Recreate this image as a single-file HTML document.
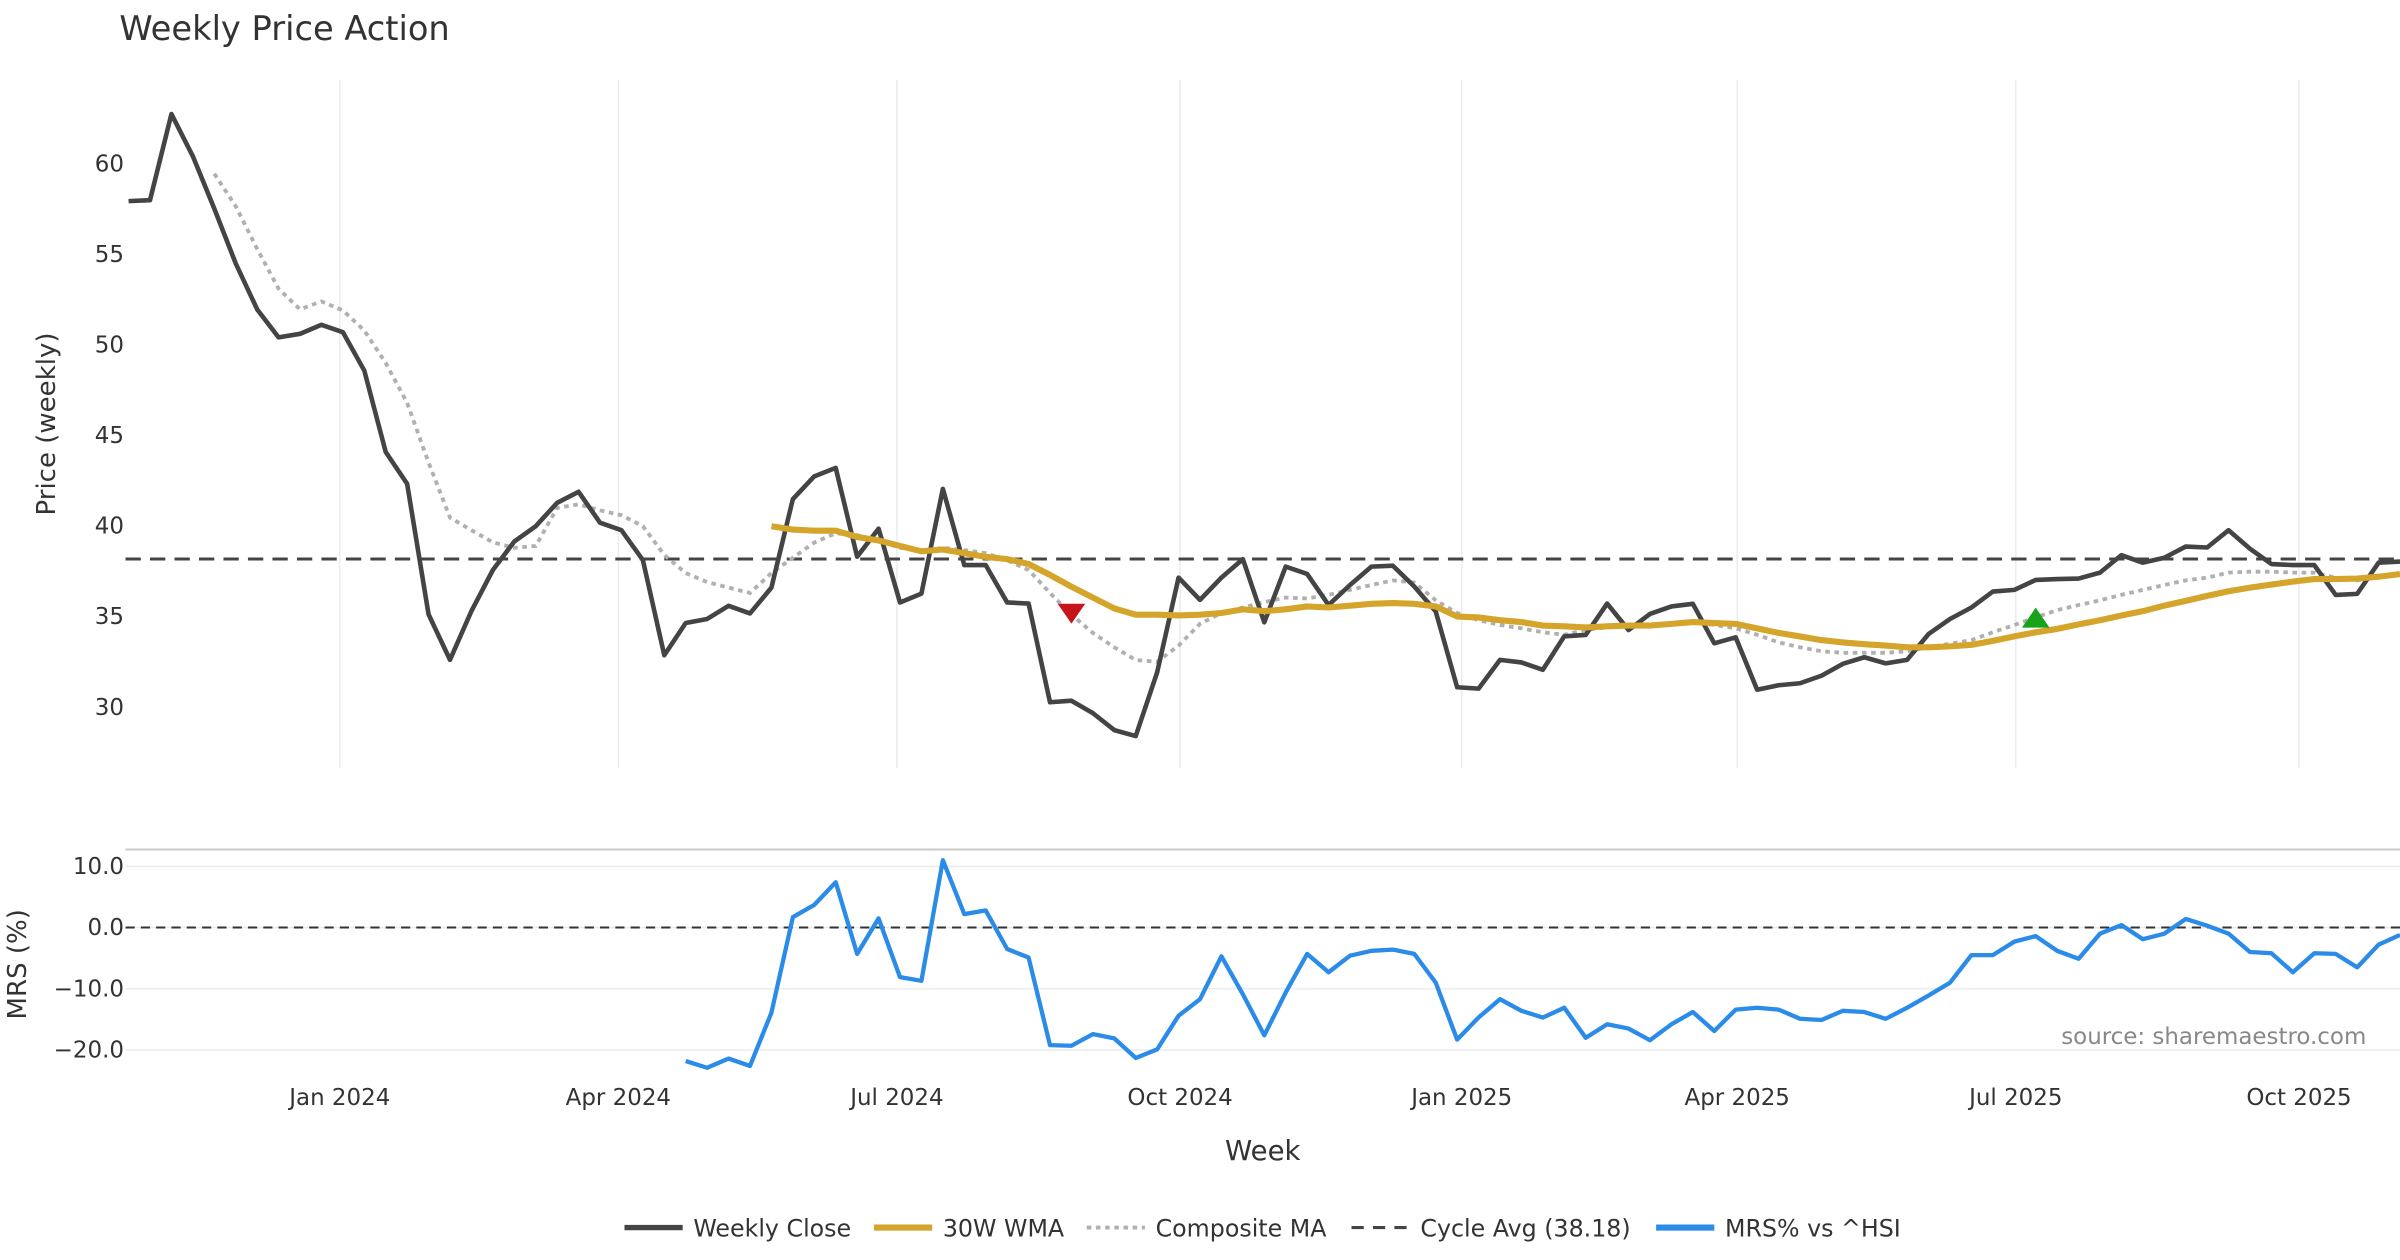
<!DOCTYPE html>
<html><head><meta charset="utf-8"><style>
html,body{margin:0;padding:0;background:#fff;}
svg{display:block;font-family:"DejaVu Sans","Liberation Sans",sans-serif;}
</style></head><body>
<svg id="chart" width="2400" height="1260" viewBox="0 0 1568 823.2" xmlns="http://www.w3.org/2000/svg">
<rect x="0" y="0" width="1568" height="823.2" fill="#fff"/>
<text x="78" y="26" font-size="22" fill="#333">Weekly Price Action</text>
<text transform="translate(36,277) rotate(-90)" text-anchor="middle" font-size="17" fill="#333">Price (weekly)</text>
<text transform="translate(17,630) rotate(-90)" text-anchor="middle" font-size="17" fill="#333">MRS (%)</text>
<text x="825" y="758" text-anchor="middle" font-size="18" fill="#333">Week</text>
<text x="1546" y="682" text-anchor="end" font-size="15" fill="#888">source: sharemaestro.com</text>
<g id="grid"></g>
<g id="series"></g>
<g id="legend"></g>
</svg>
<script>
const closeVals=[57.94,57.99,62.75,60.41,57.52,54.5,51.96,50.42,50.61,51.11,50.70,48.58,44.09,42.33,35.12,32.61,35.31,37.57,39.14,39.99,41.28,41.89,40.18,39.77,38.12,32.86,34.65,34.87,35.59,35.17,36.60,41.48,42.74,43.21,38.31,39.85,35.78,36.27,42.05,37.84,37.84,35.78,35.72,30.27,30.35,29.67,28.73,28.40,31.92,37.15,35.92,
37.15,38.17,34.68,37.76,37.35,35.64,36.74,37.76,37.81,36.66,35.28,31.10,31.02,32.61,32.47,32.06,33.91,33.99,35.72,34.26,35.15,35.56,35.70,33.52,33.85,30.96,31.21,31.32,31.73,32.39,32.75,32.42,32.61,34.04,34.87,35.50,36.38,36.47,37.02,37.07,37.10,37.43,38.39,37.98,38.25,38.86,38.81,39.77,38.75,37.90,37.84,37.84,36.19,36.25,37.98,38.04];
const wmaStart=30;
const wmaVals=[39.99,39.8,39.74,39.74,39.4,39.2,38.9,38.6,38.7,38.5,38.3,38.17,37.9,37.3,36.65,36.05,35.45,35.1,35.1,35.06,
35.1,35.2,35.4,35.3,35.4,35.56,35.5,35.6,35.7,35.75,35.7,35.56,35.0,34.95,34.8,34.7,34.5,34.46,34.4,34.46,34.5,34.5,34.6,34.7,34.64,34.6,34.35,34.1,33.9,33.7,33.57,33.47,33.4,33.3,33.3,33.35,33.44,33.66,33.9,34.13,34.32,34.57,34.8,35.06,35.3,35.6,35.86,36.14,36.4,36.6,36.77,36.93,37.07,37.07,37.1,37.2,37.35];
const compStart=4;
const compVals=[59.45,57.66,55.3,53.1,51.96,52.4,51.9,50.8,49.0,46.8,43.5,40.46,39.77,39.1,38.8,38.9,41.0,41.2,40.87,40.6,40.0,38.4,37.4,36.9,36.6,36.3,37.4,38.25,39.08,39.6,39.5,39.2,38.8,38.6,38.8,38.67,38.5,38.1,37.57,36.3,35.1,34.1,33.3,32.6,32.5,33.4,34.6,
35.2,35.5,35.8,36.05,36.0,36.2,36.47,36.74,37.0,36.88,35.9,35.2,34.8,34.54,34.35,34.13,34.0,34.26,34.4,34.46,34.54,34.6,34.68,34.54,34.35,34.0,33.57,33.3,33.08,33.0,33.0,33.0,33.08,33.3,33.5,33.7,34.13,34.54,34.95,35.36,35.64,35.9,36.2,36.47,36.74,37.0,37.15,37.43,37.48,37.48,37.43,37.43,37.15,37.0,37.15,37.3];
const mrsStart=26;
const mrsVals=[-21.8,-22.9,-21.4,-22.6,-13.9,1.7,3.7,7.4,-4.3,1.5,-8.1,-8.7,11.0,2.2,2.8,-3.5,-4.9,-19.2,-19.3,-17.4,-18.1,-21.3,-19.9,-14.4,-11.7,-4.7,-10.9,-17.6,-10.6,-4.3,-7.3,-4.6,-3.8,-3.6,-4.3,-9.0,-18.3,-14.7,-11.7,-13.6,-14.7,-13.1,-18.0,-15.8,-16.5,-18.4,-15.8,-13.8,-16.9,-13.4,-13.1,-13.4,-14.9,-15.1,-13.6,-13.8,-14.9,-13.1,-11.1,-9.0,-4.5,-4.5,-2.3,-1.4,-3.8,-5.1,-1.0,0.4,-1.9,-1.0,1.4,0.3,-1.0,-4.0,-4.2,-7.3,-4.2,-4.3,-6.5,-2.8,-1.2];
const cycleAvg=38.18;
const sellSignal=[44,35.2];
const buySignal=[89,34.9];
const priceTicks=[30,35,40,45,50,55,60];
const mrsTicks=[10,0,-10,-20];
const monthLabels=["Jan 2024","Apr 2024","Jul 2024","Oct 2024","Jan 2025","Apr 2025","Jul 2025","Oct 2025"];
const monthWeekPos=[9.857,22.857,35.857,49.071,62.214,75.071,88.071,101.286];

const NS="http://www.w3.org/2000/svg";
function xs(i){return 84+i*14.0;}
function yp(v){return 107+(60-v)*11.833;}
function ym(v){return 606-v*4.0;}
function mk(tag,attrs,parent){const e=document.createElementNS(NS,tag);for(const k in attrs)e.setAttribute(k,attrs[k]);parent.appendChild(e);return e;}
const grid=document.getElementById('grid'),ser=document.getElementById('series'),leg=document.getElementById('legend');

monthWeekPos.forEach((w,k)=>{
  const x=xs(w);
  const g=mk('line',{x1:x,x2:x,y1:52,y2:502,stroke:'#e9edf1','stroke-width':1},grid);
  
  
  const t=mk('text',{x:x,y:722,'text-anchor':'middle','font-size':15,fill:'#333'},grid);
  t.textContent=monthLabels[k];
  
  
});
priceTicks.forEach(v=>{
  const t=mk('text',{x:81,y:yp(v)+5,'text-anchor':'end','font-size':15,fill:'#333'},grid);
  t.textContent=v;
  
  
});
const border=mk('line',{x1:82,x2:1568,y1:555,y2:555,stroke:'#c8c8c8','stroke-width':1.3},grid);


mrsTicks.forEach(v=>{
  const l=mk('line',{x1:82,x2:1568,y1:ym(v),y2:ym(v),stroke:'#ececf0','stroke-width':1},grid);
  
  
  const t=mk('text',{x:81,y:ym(v)+5,'text-anchor':'end','font-size':15,fill:'#333'},grid);
  t.textContent=(v<0?'\u2212':'')+Math.abs(v).toFixed(1);
  
  
});
const z=mk('line',{x1:82,x2:1568,y1:ym(0),y2:ym(0),stroke:'#333','stroke-width':1.3,'stroke-dasharray':'6,4'},ser);


const ca=mk('line',{x1:82,x2:1568,y1:yp(cycleAvg),y2:yp(cycleAvg),stroke:'#444','stroke-width':2,'stroke-dasharray':'10,6'},ser);



function pts(vals,start,yf){return vals.map((v,i)=>xs(start+i).toFixed(1)+','+yf(v).toFixed(1)).join(' ');}
const comp=mk('polyline',{points:pts(compVals,compStart,yp),fill:'none',stroke:'#b0b0b0','stroke-width':2.5,'stroke-dasharray':'3,3'},ser);


const cl=mk('polyline',{points:pts(closeVals,0,yp),fill:'none',stroke:'#444','stroke-width':3,'stroke-linejoin':'round'},ser);


const wm=mk('polyline',{points:pts(wmaVals,wmaStart,yp),fill:'none',stroke:'#d4a52a','stroke-width':4,'stroke-linejoin':'round'},ser);


const mr=mk('polyline',{points:pts(mrsVals,mrsStart,ym),fill:'none',stroke:'#2a8be8','stroke-width':2.8,'stroke-linejoin':'round'},ser);


{
  const x=xs(sellSignal[0]),y=yp(sellSignal[1]);
  const s=mk('polygon',{points:`${x-9},${y-6} ${x+9},${y-6} ${x},${y+7}`,fill:'#c8141c'},ser);
  
  
  const bx=xs(buySignal[0]),by=yp(buySignal[1]);
  const b=mk('polygon',{points:`${bx-9},${by+6} ${bx+9},${by+6} ${bx},${by-7}`,fill:'#17a21a'},ser);
  
  
}
const legItems=[["Weekly Close","#444",3.5,null,408],["30W WMA","#d4a52a",4,null,571],["Composite MA","#b0b0b0",2.5,"3,3",710],["Cycle Avg (38.18)","#444",2,"8,6",883],["MRS% vs ^HSI","#2a8be8",4,null,1082]];
legItems.forEach(it=>{
  const a={x1:it[4],x2:it[4]+38,y1:802,y2:802,stroke:it[1],'stroke-width':it[2]};
  if(it[3])a['stroke-dasharray']=it[3];
  const l=mk('line',a,leg);
  
  
  const t=mk('text',{x:it[4]+45,y:808,'font-size':15.5,fill:'#333'},leg);
  t.textContent=it[0];
  
  
});
</script>
</body></html>
